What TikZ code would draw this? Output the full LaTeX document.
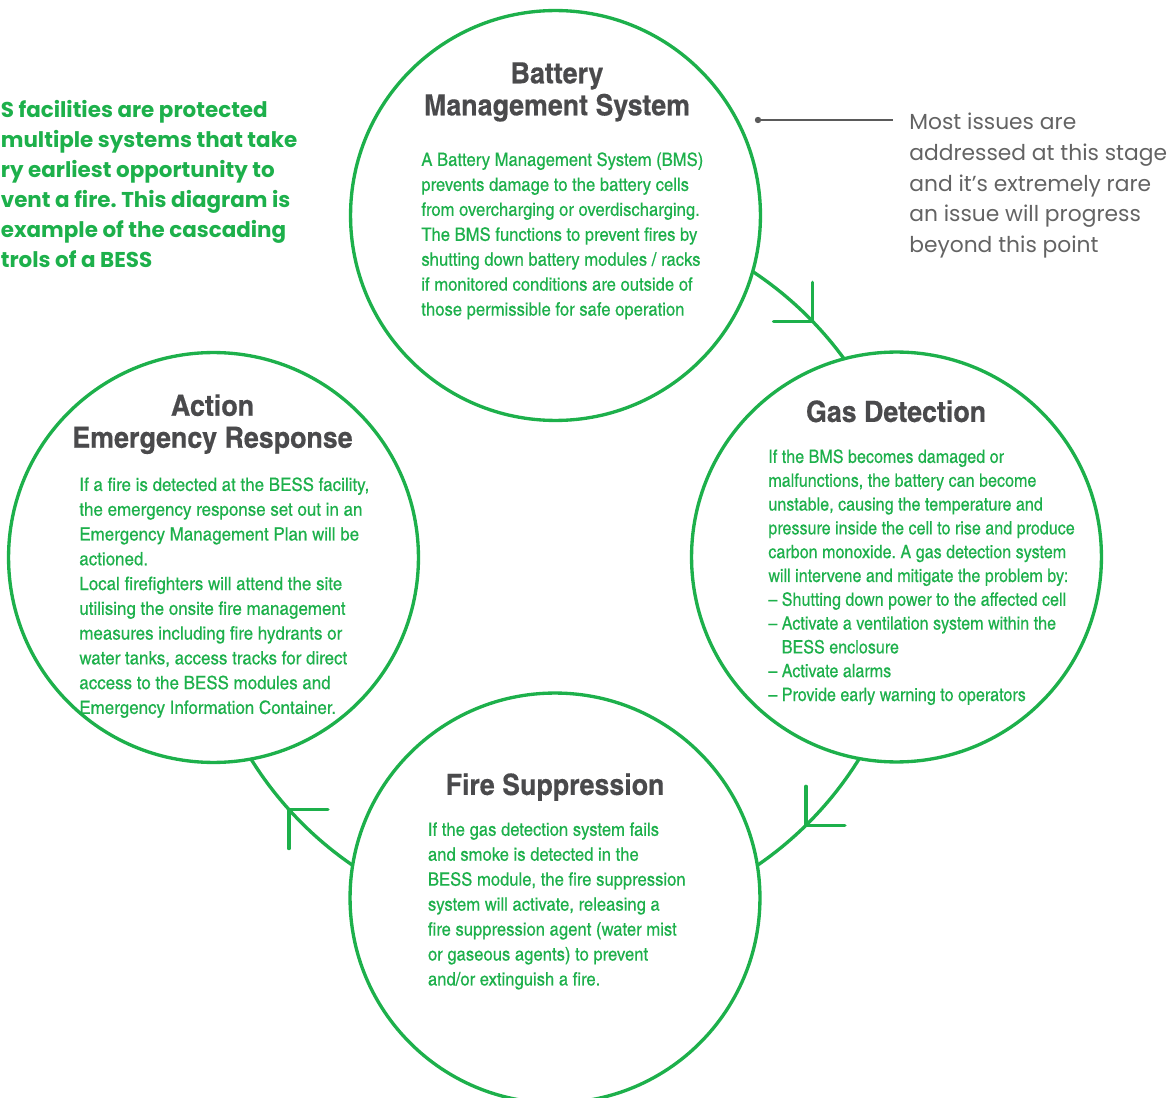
\documentclass[tikz,border=0pt]{standalone}
\usepackage{fontspec}
\usetikzlibrary{backgrounds}
\newfontfamily\headfont{texgyreheroscn-bold.otf}[FakeStretch=1.12, FakeBold=0.4]
\newfontfamily\bodyfontA{texgyreheroscn-regular.otf}[FakeStretch=1.10, FakeBold=0.3]
\newfontfamily\bodyfontB{texgyreheroscn-regular.otf}[FakeStretch=1.065, FakeBold=0.3]
\newfontfamily\bodyfontC{texgyreheroscn-regular.otf}[FakeStretch=1.12, FakeBold=0.3]
\newfontfamily\geofont{Poppins}
\definecolor{bessgreen}{HTML}{1DB04B}
\definecolor{titlegray}{HTML}{4A4A4C}
\definecolor{notegray}{HTML}{636363}
\definecolor{linegray}{HTML}{5A5A5A}
\frenchspacing
\begin{document}
\begin{tikzpicture}[x=0.02cm, y=-0.02cm,
  stage/.style={circle, draw=bessgreen, line width=1.9pt, fill=white,
    minimum size=8.2cm, inner sep=0pt, outer sep=0pt},
  stagetitle/.style={font=\headfont\fontsize{16.6}{18.2}\selectfont,
    text=titlegray, align=center, anchor=north, inner sep=0pt},
  stagebody/.style={font=\bodyfontA\fontsize{10.5}{14.2}\selectfont,
    text=bessgreen, align=left, anchor=north west, inner sep=0pt},
  link/.style={draw=bessgreen, line width=1.9pt},
  tipline/.style={draw=bessgreen, line width=1.9pt, line cap=round, line join=round}]
\useasboundingbox (0,0) rectangle (1171,1098);
\clip (0,0) rectangle (1171,1098);

% the four stages of protection
\node[stage] (bms)  at (555.5,215.5) {};
\node[stage] (gas)  at (896.5,557)   {};
\node[stage] (fire) at (555,898)     {};
\node[stage] (act)  at (213.5,557.5) {};

% cascade ring linking the stages
\coordinate (ring) at (555,570);
\begin{pgfonlayer}{background}
  \draw[link] ([shift={(-70:358)}]ring) arc[start angle=-70, end angle=-20, radius=358];
  \draw[link] ([shift={(20:358)}]ring)  arc[start angle=20,  end angle=70,  radius=358];
  \draw[link] ([shift={(110:358)}]ring) arc[start angle=110, end angle=160, radius=358];
\end{pgfonlayer}
\coordinate (tipA) at ([shift={(-44:358)}]ring);
\coordinate (tipB) at ([shift={(45.5:358)}]ring);
\coordinate (tipC) at ([shift={(138:358)}]ring);
\draw[tipline] (tipA) ++(0,-39) -- (tipA) -- ++(-39,0);
\draw[tipline] (tipB) ++(0,-39) -- (tipB) -- ++(39,0);
\draw[tipline] (tipC) ++(39,0) -- (tipC) -- ++(0,39);

% titles
\node[stagetitle] (bmstitle) at (557,62) {Battery\\Management System};
\node[stagetitle] (gastitle) at (896,400) {Gas Detection};
\node[stagetitle] (firetitle) at (555,773) {Fire Suppression};
\node[stagetitle] (acttitle) at (212.5,394) {Action\\Emergency Response};

% descriptions
\node[stagebody] (bmsbody) at (421,152) {A Battery Management System (BMS)\\
prevents damage to the battery cells\\
from overcharging or overdischarging.\\
The BMS functions to prevent fires by\\
shutting down battery modules / racks\\
if monitored conditions are outside of\\
those permissible for safe operation};

\node[stagebody, font=\bodyfontB\fontsize{10.5}{13.55}\selectfont] (gasbody) at (768,449) {If the BMS becomes damaged or\\
malfunctions, the battery can become\\
unstable, causing the temperature and\\
pressure inside the cell to rise and produce\\
carbon monoxide. A gas detection system\\
will intervene and mitigate the problem by:\\
– Shutting down power to the affected cell\\
– Activate a ventilation system within the\\
\phantom{– }BESS enclosure\\
– Activate alarms\\
– Provide early warning to operators};

\node[stagebody] (firebody) at (427.6,822) {If the gas detection system fails\\
and smoke is detected in the\\
BESS module, the fire suppression\\
system will activate, releasing a\\
fire suppression agent (water mist\\
or gaseous agents) to prevent\\
and/or extinguish a fire.};

\node[stagebody, font=\bodyfontC\fontsize{10.5}{14.1}\selectfont] (actbody) at (79,477) {If a fire is detected at the BESS facility,\\
the emergency response set out in an\\
Emergency Management Plan will be\\
actioned.\\
Local firefighters will attend the site\\
utilising the onsite fire management\\
measures including fire hydrants or\\
water tanks, access tracks for direct\\
access to the BESS modules and\\
Emergency Information Container.};

% introduction at the left edge
\node[font=\geofont\bfseries\fontsize{12.2}{17.1}\selectfont, text=bessgreen,
  align=left, anchor=north west, inner sep=0pt] (lead) at (0.5,100) {S facilities are protected\\
multiple systems that take\\
ry earliest opportunity to\\
vent a fire. This diagram is\\
example of the cascading\\
trols of a BESS};

% side note on the first stage
\coordinate (notedot) at (758,120);
\coordinate (noteend) at (893,120);
\draw[linegray, line width=0.9pt] (notedot) -- (noteend);
\fill[linegray] (notedot) circle (3.2);
\node[font=\geofont\fontsize{12.4}{17.4}\selectfont, text=notegray,
  align=left, anchor=north west, inner sep=0pt] (note) at (909,113) {Most issues are\\
addressed at this stage\\
and it’s extremely rare\\
an issue will progress\\
beyond this point};
\end{tikzpicture}
\end{document}
